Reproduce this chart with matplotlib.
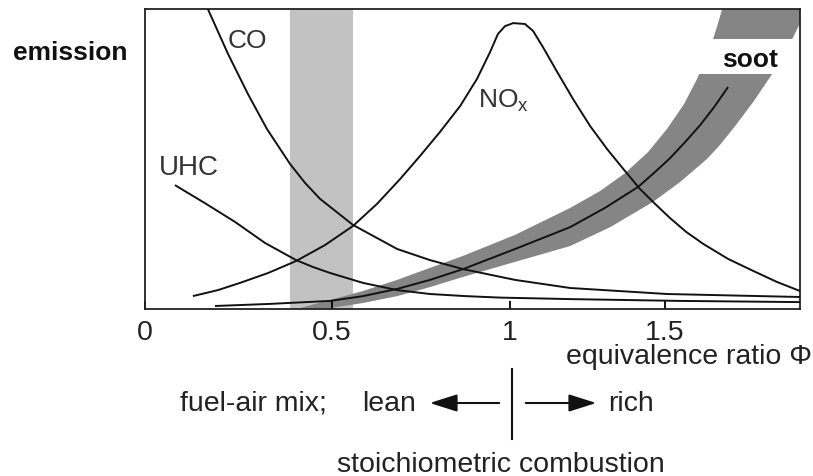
import numpy as np
import matplotlib
matplotlib.use("Agg")
from matplotlib import pyplot as plt
from matplotlib.patches import Rectangle, FancyArrowPatch
from matplotlib.lines import Line2D

plt.rcParams['font.family'] = ['Liberation Sans', 'DejaVu Sans']
plt.rcParams['mathtext.fontset'] = 'custom'
plt.rcParams['mathtext.rm'] = 'Liberation Sans'

# emission curves vs equivalence ratio (arbitrary emission units 0..1)
co_phi = [0.168, 0.222, 0.275, 0.326, 0.388, 0.428, 0.468, 0.559, 0.683, 0.775,
          0.868, 1.016, 1.194, 1.506, 1.935]
co_val = [1.0, 0.85, 0.717, 0.60, 0.483, 0.42, 0.367, 0.28, 0.20, 0.163,
          0.133, 0.097, 0.07, 0.05, 0.04]

uhc_phi = [0.080, 0.160, 0.241, 0.321, 0.404, 0.449, 0.495, 0.587, 0.683, 0.775,
           0.874, 0.972, 1.194, 1.548, 1.935]
uhc_val = [0.413, 0.353, 0.29, 0.22, 0.163, 0.14, 0.12, 0.087, 0.063, 0.05,
           0.043, 0.038, 0.033, 0.027, 0.023]

nox_phi = [0.128, 0.195, 0.254, 0.329, 0.404, 0.481, 0.559, 0.626, 0.691, 0.747,
           0.803, 0.860, 0.907, 0.944, 0.966, 0.986, 1.010, 1.048, 1.074, 1.106,
           1.152, 1.203, 1.258, 1.313, 1.365, 1.419, 1.468, 1.516, 1.568, 1.623,
           1.703, 1.784, 1.861, 1.935]
nox_val = [0.043, 0.063, 0.087, 0.12, 0.16, 0.213, 0.277, 0.35, 0.433, 0.51,
           0.59, 0.677, 0.767, 0.857, 0.917, 0.943, 0.953, 0.95, 0.927, 0.873,
           0.79, 0.70, 0.61, 0.533, 0.467, 0.40, 0.35, 0.303, 0.257, 0.217,
           0.167, 0.127, 0.09, 0.06]

soot_phi = [0.187, 0.334, 0.495, 0.587, 0.683, 0.775, 0.868, 1.016, 1.194, 1.306,
            1.413, 1.468, 1.516, 1.565, 1.613, 1.658, 1.703]
soot_val = [0.01, 0.017, 0.027, 0.043, 0.067, 0.097, 0.133, 0.2, 0.273, 0.337,
            0.407, 0.457, 0.503, 0.557, 0.613, 0.673, 0.74]

# scatter band around the soot curve (upper-left and lower-right edges)
band_hi_phi = [0.414, 0.495, 0.587, 0.683, 0.775, 0.868, 1.016, 1.194, 1.29, 1.371,
               1.445, 1.506, 1.561, 1.603, 1.639, 1.665, 1.684, 1.694]
band_hi_val = [0.003, 0.03, 0.06, 0.097, 0.137, 0.177, 0.247, 0.337, 0.393, 0.453,
               0.523, 0.60, 0.683, 0.767, 0.85, 0.933, 1.0, 1.033]
band_lo_phi = [0.495, 0.587, 0.683, 0.775, 0.868, 1.016, 1.194, 1.323, 1.461, 1.548,
               1.635, 1.677, 1.726, 1.784, 1.845, 1.91, 1.958, 1.974]
band_lo_val = [0.003, 0.02, 0.043, 0.073, 0.107, 0.157, 0.21, 0.273, 0.357, 0.423,
               0.50, 0.547, 0.61, 0.69, 0.783, 0.90, 1.0, 1.033]

lean_zone = (0.388, 0.559)
tick_vals = [0, 0.5, 1, 1.5]
tick_text = ['0', '0.5', '1', '1.5']

# the drawn axis is not evenly spaced
knot_phi = [0, 0.5, 1.0, 1.5, 2.0, 2.5]
knot_pos = [0, 187, 365, 520, 675, 830]

def fwd(x):
    return np.interp(x, knot_phi, knot_pos)

def inv(p):
    return np.interp(p, knot_pos, knot_phi)

W, H = 813, 477
fig = plt.figure(figsize=(W / 100, H / 100), dpi=100)
ax = fig.add_axes([145 / W, 1 - 310 / H, 655 / W, 300 / H])
ax.set_xscale('function', functions=(fwd, inv))
ax.set_xlim(0, 1.935)
ax.set_ylim(0, 1)

line_c = '#111111'
ax.axvspan(*lean_zone, color='#c2c2c2', lw=0, zorder=0.5)
ax.fill(np.concatenate([band_hi_phi, band_lo_phi[::-1]]),
        np.concatenate([band_hi_val, band_lo_val[::-1]]),
        color='#858585', lw=0, zorder=1)
# white gap behind the soot label
ax.add_patch(Rectangle((0.832, 0.783), 0.17, 0.117, transform=ax.transAxes,
                       color='white', lw=0, zorder=1.5))

for xs, ys in [(co_phi, co_val), (uhc_phi, uhc_val), (nox_phi, nox_val), (soot_phi, soot_val)]:
    ax.plot(xs, ys, color=line_c, lw=1.4, zorder=3, solid_capstyle='butt',
            solid_joinstyle='round')

ax.set_xticks(tick_vals)
ax.set_xticklabels(tick_text)
ax.set_yticks([])
ax.tick_params(axis='x', direction='in', length=6, width=1.3, pad=7,
               labelsize=20.5, labelcolor='#222222')
for s in ax.spines.values():
    s.set_linewidth(1.3)
    s.set_color('#222222')

def fx(px):
    return px / W

def fy(py):
    return 1 - py / H

txt = '#222222'
fig.text(fx(13), fy(60), 'emission', fontsize=19, fontweight='bold', color='#111111')
fig.text(fx(228), fy(48), 'CO', fontsize=19, color='#333333')
fig.text(fx(159), fy(175), 'UHC', fontsize=20, color='#333333')
fig.text(fx(478), fy(107), r'NO$_\mathregular{x}$', fontsize=19, color='#333333')
fig.text(fx(722), fy(67), 'soot', fontsize=19, fontweight='bold', color='#111111')

fig.text(fx(812), fy(364), 'equivalence ratio Φ', fontsize=20.5, ha='right', color=txt)
fig.text(fx(180), fy(411), 'fuel-air mix;', fontsize=20.5, color=txt)
fig.text(fx(362), fy(411), 'lean', fontsize=20.5, color=txt)
fig.text(fx(608), fy(411), 'rich', fontsize=20.5, color=txt)
fig.text(fx(337), fy(472), 'stoichiometric combustion', fontsize=20.5, color=txt)

# lean / rich arrows either side of the stoichiometric marker
fig.add_artist(Line2D([fx(512), fx(512)], [fy(370), fy(440)], color='#111111', lw=1.5))
for x0, x1 in [(502, 427), (523, 599)]:
    fig.add_artist(FancyArrowPatch((fx(x0), fy(404)), (fx(x1), fy(404)),
                                   transform=fig.transFigure,
                                   arrowstyle='-|>,head_length=1.2,head_width=0.38',
                                   mutation_scale=14, lw=1.5, color='#111111'))

fig.savefig('out.png', dpi=100)
